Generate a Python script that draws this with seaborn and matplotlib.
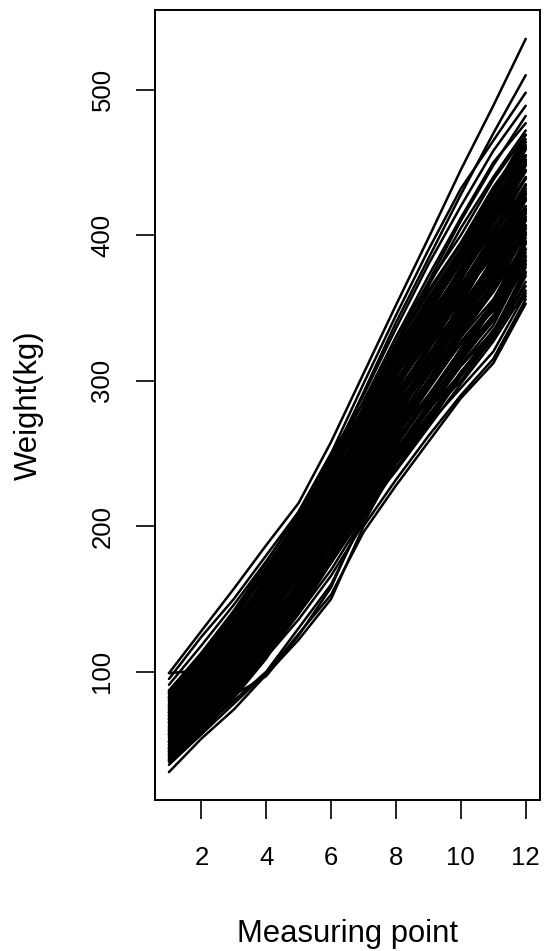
import numpy as np
import pandas as pd
import matplotlib
matplotlib.use("Agg")
import matplotlib.pyplot as plt
import seaborn as sns

# Measuring points 1..12 ; each array holds one weight (kg) per animal, same animal order
points = list(range(1, 13))
xtick_vals = [2, 4, 6, 8, 10, 12]
ytick_vals = [100, 200, 300, 400, 500]

w1 = [99, 99, 95, 91, 86, 82, 78,
      31, 36, 40, 45, 52, 60,
      38, 40, 43, 45, 47, 50, 52, 55, 57, 60,
      62, 65, 67, 70, 72, 75, 77, 80, 82, 85,
      87, 39, 42, 47, 52, 57, 62, 67, 72, 77,
      82, 87, 40, 44, 49, 55, 60, 65, 70, 75,
      82, 85, 42, 52, 62, 67, 72, 77, 47, 57,
      53, 68, 80, 48, 73, 59, 86, 43,
      41, 46, 50, 54, 58, 61, 64, 66, 69, 71,
      74, 76, 79, 81, 84, 48, 44, 56, 63, 68,
      73, 39, 51, 59, 65, 70, 75, 83, 57, 46]
w2 = [128, 101, 124, 118, 112, 110, 104,
      54, 57, 60, 65, 70, 80,
      57, 62, 63, 67, 70, 72, 75, 77, 80, 83,
      86, 88, 91, 94, 97, 99, 102, 105, 108, 110,
      113, 59, 64, 68, 77, 79, 88, 89, 95, 99,
      106, 111, 64, 67, 76, 76, 84, 86, 95, 98,
      104, 108, 65, 73, 84, 93, 94, 101, 71, 82,
      76, 90, 104, 68, 96, 84, 109, 62,
      60, 70, 74, 79, 82, 87, 85, 92, 93, 98,
      100, 101, 103, 106, 109, 66, 65, 78, 89, 88,
      97, 61, 71, 81, 90, 92, 102, 104, 76, 69]
w3 = [157, 138, 150, 146, 140, 138, 132,
      74, 78, 80, 84, 90, 100,
      83, 84, 89, 90, 95, 98, 101, 103, 107, 109,
      113, 115, 118, 122, 124, 127, 131, 133, 136, 139,
      142, 82, 91, 93, 106, 103, 116, 114, 121, 125,
      133, 139, 92, 94, 105, 101, 112, 110, 123, 125,
      129, 134, 91, 97, 109, 122, 118, 129, 98, 110,
      99, 117, 132, 96, 125, 108, 140, 89,
      86, 92, 102, 104, 111, 114, 118, 120, 117, 126,
      128, 127, 131, 134, 137, 90, 93, 105, 117, 113,
      123, 87, 95, 108, 119, 115, 130, 130, 100, 96]
w4 = [187, 170, 180, 176, 172, 170, 165,
      98, 99, 100, 97, 110, 120,
      110, 112, 114, 119, 121, 125, 128, 132, 135, 138,
      142, 146, 148, 152, 155, 158, 162, 165, 168, 172,
      175, 109, 121, 118, 138, 129, 149, 141, 150, 152,
      163, 167, 122, 123, 138, 128, 143, 137, 155, 155,
      156, 164, 119, 123, 137, 155, 145, 160, 128, 142,
      131, 146, 163, 120, 153, 139, 170, 116,
      113, 126, 127, 136, 140, 145, 147, 150, 149, 157,
      161, 156, 164, 162, 170, 117, 120, 133, 149, 141,
      151, 117, 122, 138, 153, 143, 163, 158, 126, 126]
w5 = [216, 205, 210, 208, 205, 203, 200,
      122, 126, 130, 125, 140, 150,
      136, 140, 143, 147, 151, 153, 158, 162, 165, 170,
      173, 177, 181, 184, 188, 191, 195, 199, 203, 206,
      210, 146, 158, 145, 173, 157, 184, 169, 179, 181,
      194, 202, 155, 153, 174, 156, 176, 164, 189, 186,
      185, 194, 149, 151, 166, 190, 173, 193, 160, 175,
      160, 178, 196, 152, 186, 168, 205, 145,
      142, 155, 160, 170, 172, 176, 182, 183, 180, 193,
      196, 186, 199, 192, 205, 148, 150, 166, 184, 172,
      180, 150, 150, 171, 188, 174, 198, 188, 156, 158]
w6 = [258, 245, 250, 247, 244, 240, 238,
      150, 153, 160, 158, 175, 180,
      166, 170, 175, 177, 183, 187, 190, 196, 200, 203,
      208, 212, 216, 221, 225, 229, 233, 237, 242, 246,
      250, 182, 199, 175, 212, 187, 223, 201, 213, 213,
      230, 238, 192, 187, 215, 187, 213, 195, 228, 221,
      216, 229, 183, 181, 198, 230, 203, 231, 196, 213,
      196, 211, 234, 181, 222, 205, 243, 178,
      176, 190, 193, 202, 205, 214, 216, 219, 218, 232,
      233, 220, 238, 226, 244, 180, 184, 201, 222, 206,
      212, 188, 181, 208, 226, 210, 236, 222, 190, 195]
w7 = [305, 292, 298, 290, 286, 282, 280,
      200, 196, 205, 208, 210, 215,
      202, 206, 208, 214, 216, 222, 226, 231, 234, 239,
      243, 248, 252, 255, 260, 264, 268, 272, 277, 281,
      285, 226, 243, 209, 251, 221, 261, 232, 246, 245,
      263, 271, 232, 225, 256, 220, 250, 226, 265, 254,
      247, 260, 220, 214, 231, 267, 234, 266, 233, 250,
      232, 245, 266, 219, 256, 236, 277, 214,
      215, 227, 228, 240, 246, 250, 253, 257, 252, 268,
      269, 250, 275, 258, 280, 212, 222, 236, 258, 240,
      244, 228, 213, 244, 262, 247, 272, 256, 226, 233]
w8 = [352, 340, 345, 336, 330, 326, 322,
      232, 228, 240, 245, 238, 250,
      243, 245, 250, 252, 259, 262, 268, 272, 277, 281,
      286, 290, 294, 299, 303, 308, 312, 317, 321, 326,
      330, 272, 294, 247, 298, 259, 307, 272, 286, 283,
      304, 313, 279, 268, 306, 260, 295, 263, 310, 296,
      284, 299, 263, 253, 271, 314, 272, 309, 278, 296,
      275, 288, 311, 256, 298, 282, 320, 255,
      258, 265, 270, 281, 290, 294, 292, 300, 297, 313,
      315, 289, 320, 300, 324, 250, 264, 279, 304, 280,
      282, 274, 249, 288, 306, 290, 318, 296, 268, 278]
w9 = [398, 384, 390, 380, 372, 368, 365,
      262, 258, 270, 276, 268, 280,
      270, 272, 279, 284, 288, 294, 297, 304, 308, 314,
      318, 323, 328, 332, 338, 342, 347, 352, 357, 362,
      367, 313, 332, 274, 337, 286, 346, 299, 315, 312,
      335, 345, 316, 301, 347, 288, 330, 290, 347, 327,
      311, 329, 296, 280, 300, 352, 298, 343, 313, 332,
      307, 318, 343, 289, 330, 311, 355, 287,
      290, 300, 305, 312, 325, 330, 322, 334, 331, 350,
      348, 317, 356, 333, 360, 282, 297, 312, 340, 309,
      310, 310, 276, 321, 342, 324, 354, 328, 300, 315]
w10 = [445, 428, 432, 420, 412, 410, 405,
       290, 288, 295, 300, 298, 305,
       303, 306, 311, 316, 321, 326, 331, 336, 341, 346,
       351, 356, 361, 366, 370, 376, 381, 386, 391, 395,
       400, 348, 370, 304, 375, 315, 383, 327, 345, 339,
       365, 375, 354, 335, 386, 319, 365, 318, 381, 359,
       337, 358, 330, 310, 330, 389, 325, 376, 349, 369,
       341, 347, 377, 318, 362, 347, 387, 322,
       322, 334, 340, 342, 360, 364, 350, 372, 360, 384,
       382, 349, 390, 366, 394, 313, 333, 344, 375, 340,
       338, 347, 306, 357, 378, 357, 390, 360, 333, 352]
w11 = [489, 470, 465, 458, 450, 448, 440,
       315, 312, 320, 330, 327, 335,
       330, 333, 338, 343, 350, 353, 361, 366, 371, 377,
       383, 388, 393, 399, 404, 410, 416, 422, 427, 433,
       438, 380, 410, 329, 416, 341, 423, 353, 374, 365,
       397, 408, 393, 368, 430, 345, 402, 342, 419, 390,
       361, 386, 363, 334, 356, 429, 348, 410, 384, 407,
       373, 378, 411, 350, 395, 375, 425, 352,
       355, 362, 372, 377, 392, 400, 380, 408, 392, 420,
       418, 382, 430, 400, 430, 343, 365, 378, 413, 370,
       367, 385, 332, 393, 414, 389, 428, 393, 364, 391]
w12 = [535, 510, 498, 489, 477, 482, 472,
       356, 353, 360, 365, 362, 358,
       372, 378, 382, 386, 391, 396, 401, 406, 411, 416,
       420, 425, 430, 434, 440, 444, 450, 455, 460, 464,
       469, 418, 449, 368, 459, 380, 459, 390, 410, 400,
       429, 439, 434, 410, 469, 385, 439, 380, 454, 424,
       395, 420, 405, 375, 395, 464, 385, 439, 424, 444,
       413, 415, 445, 388, 430, 417, 455, 394,
       398, 402, 415, 418, 432, 440, 412, 448, 426, 452,
       452, 418, 462, 435, 466, 383, 407, 420, 451, 404,
       400, 428, 374, 435, 448, 425, 461, 428, 402, 432]

weights = [w1, w2, w3, w4, w5, w6, w7, w8, w9, w10, w11, w12]
n_animals = len(w1)
df = pd.DataFrame({
    "point": np.repeat(points, n_animals),
    "animal": np.tile(np.arange(n_animals), len(points)),
    "weight": np.concatenate(weights),
})

sns.set_style("white")
plt.rcParams["font.family"] = ["Liberation Sans", "DejaVu Sans"]

W, H = 547, 951
fig = plt.figure(figsize=(W / 100, H / 100), dpi=100)
left, right, top, bottom = 154.7, 540.0, 10.0, 800.0
ax = fig.add_axes([left / W, (H - bottom) / H, (right - left) / W, (bottom - top) / H])

sns.lineplot(data=df, x="point", y="weight", units="animal", estimator=None,
             color="black", linewidth=1.8, ax=ax, legend=False)

ax.set_xlim(0.56, 12.44)
ax.set_ylim(11.8, 554.8)
ax.set_xticks(xtick_vals)
ax.set_xticklabels([str(v) for v in xtick_vals])
ax.set_yticks(ytick_vals)
ax.set_yticklabels([str(v) for v in ytick_vals], rotation=90, va="center")

for s in ax.spines.values():
    s.set_color("black")
    s.set_linewidth(1.4)
    s.set_visible(True)

ax.tick_params(axis="both", direction="out", length=14, width=1.2, color="black",
               labelsize=18.5, labelcolor="black")
ax.tick_params(axis="x", pad=19, bottom=True)
ax.tick_params(axis="y", pad=15, left=True)

ax.set_xlabel("Measuring point", fontsize=22.3, color="black")
ax.set_ylabel("Weight(kg)", fontsize=22.3, color="black")
ax.xaxis.set_label_coords(0.5, -0.151)
ax.yaxis.set_label_coords(-0.287, 0.5)

fig.savefig("out.png", dpi=100, facecolor="white")
